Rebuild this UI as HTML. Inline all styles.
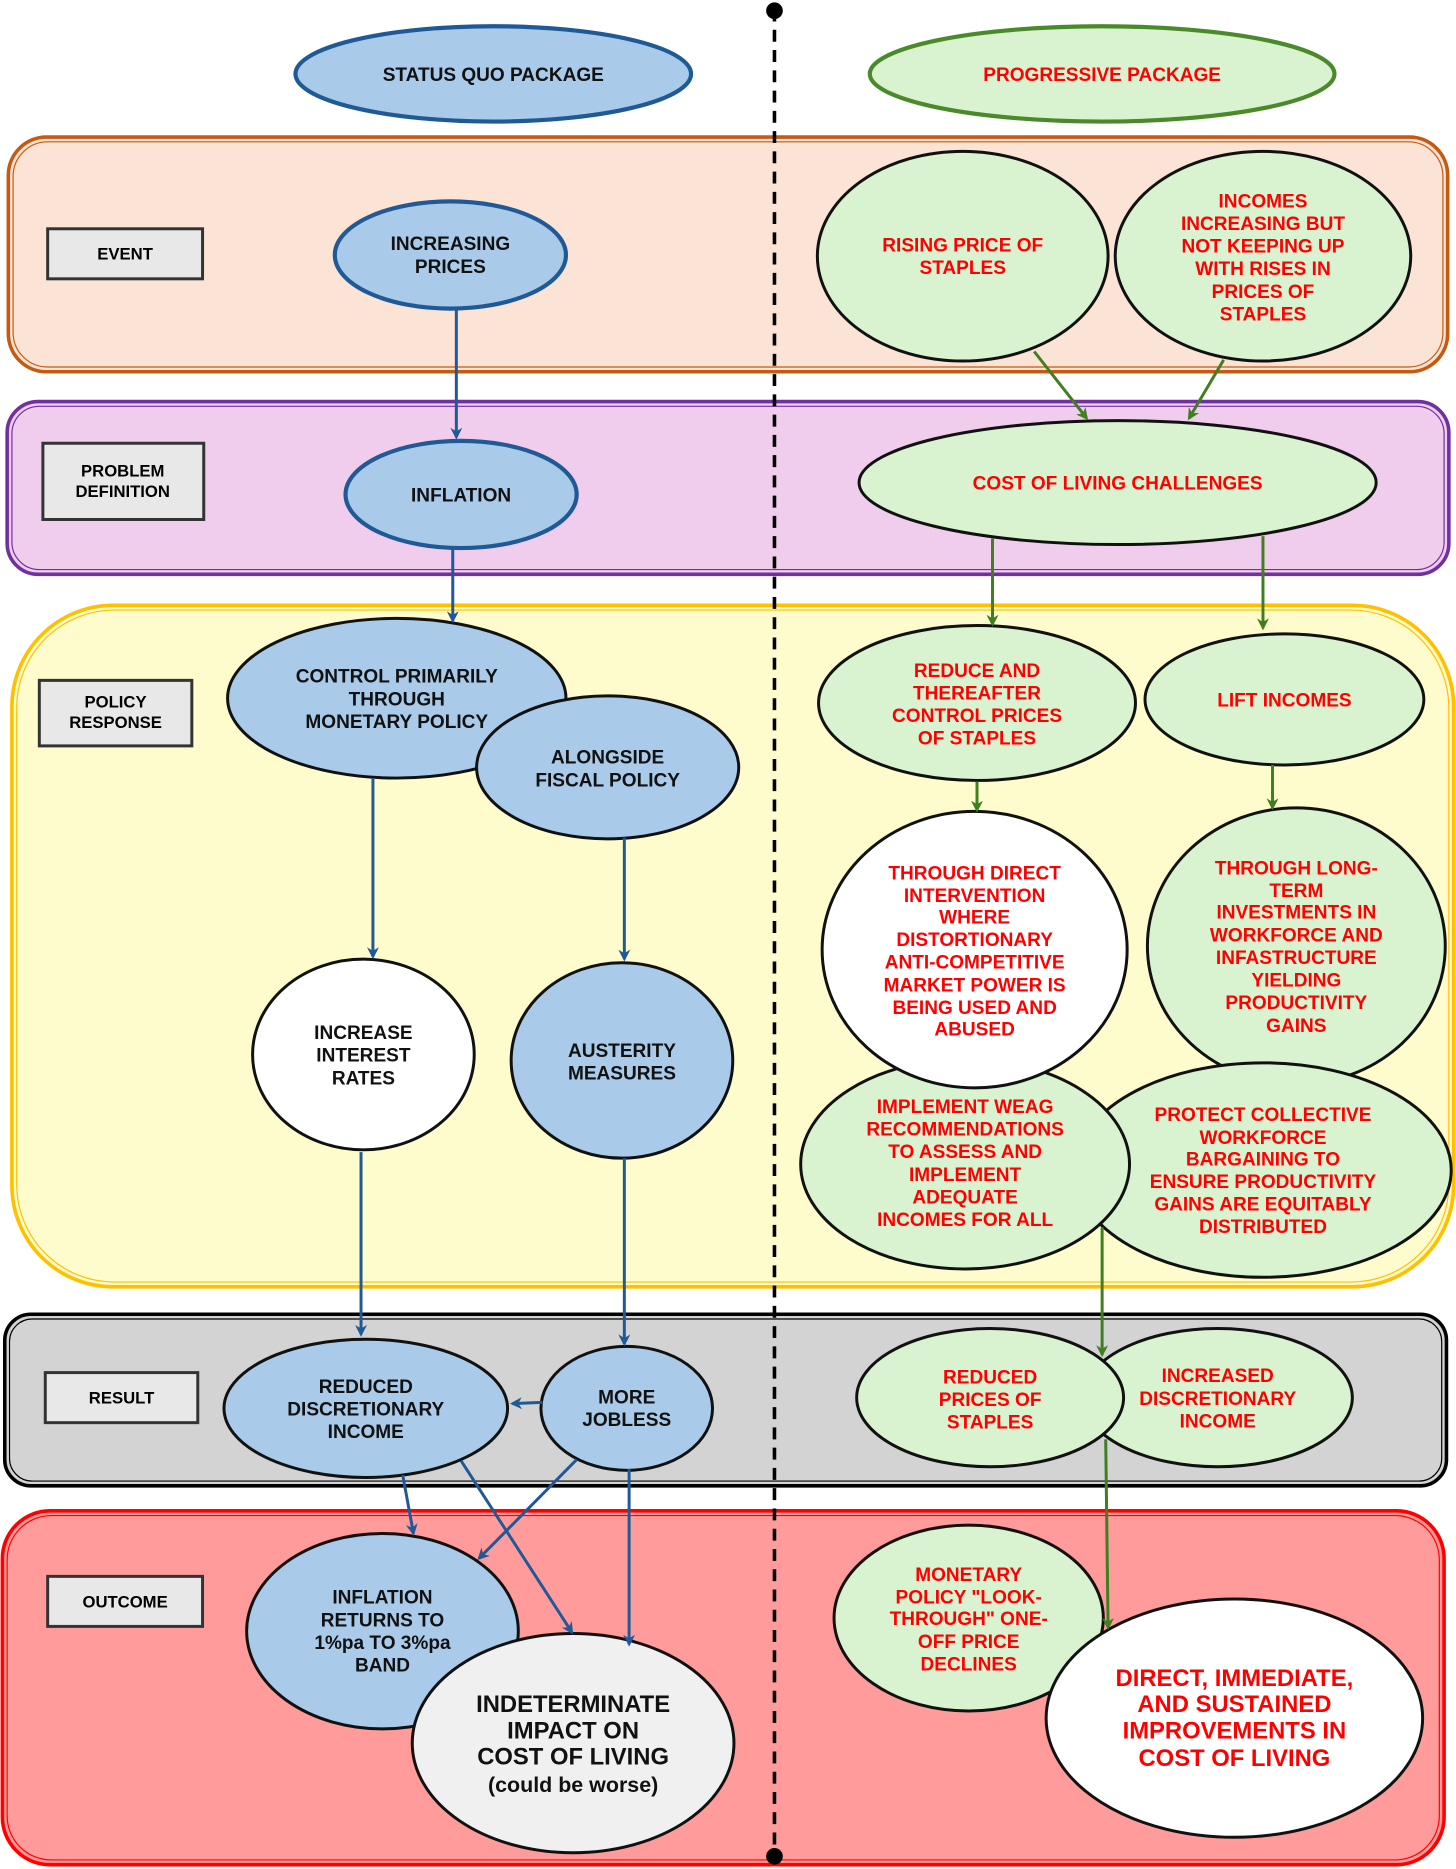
<!DOCTYPE html>
<html><head><meta charset="utf-8"><style>html,body{margin:0;padding:0;background:#fff}svg{display:block}</style></head>
<body>
<svg xmlns="http://www.w3.org/2000/svg" width="1456" height="1869" viewBox="0 0 1222 1568.6" font-family="Liberation Sans, sans-serif" font-weight="bold">
<defs>
<marker id="ab" markerWidth="10" markerHeight="10" refX="8" refY="5" orient="auto" markerUnits="userSpaceOnUse"><path d="M0,0 L10,5 L0,10 L3,5 z" fill="#1f5a96"/></marker>
<marker id="ag" markerWidth="10" markerHeight="10" refX="8" refY="5" orient="auto" markerUnits="userSpaceOnUse"><path d="M0,0 L10,5 L0,10 L3,5 z" fill="#3f7f1f"/></marker>
</defs>
<rect width="1222" height="1569" fill="#fff"/>
<!-- bands -->
<rect x="7" y="115" width="1208" height="197" rx="32" fill="#fbe3d6" stroke="#c55a11" stroke-width="3"/>
<rect x="11" y="119" width="1200" height="189" rx="29" fill="none" stroke="#c55a11" stroke-width="1"/>
<rect x="6" y="337" width="1210" height="145" rx="26" fill="#f0cdec" stroke="#7030a0" stroke-width="3"/>
<rect x="10" y="341" width="1202" height="137" rx="23" fill="none" stroke="#7030a0" stroke-width="1"/>
<rect x="10" y="508" width="1210" height="572" rx="85" fill="#fefbcc" stroke="#ffc000" stroke-width="3"/>
<rect x="14" y="512" width="1202" height="564" rx="82" fill="none" stroke="#ffc000" stroke-width="1"/>
<rect x="4" y="1103" width="1210" height="144" rx="22" fill="#d3d3d3" stroke="#000" stroke-width="3"/>
<rect x="8" y="1107" width="1202" height="136" rx="19" fill="none" stroke="#000" stroke-width="1"/>
<rect x="2" y="1268" width="1210" height="297" rx="40" fill="#ff9b9b" stroke="#ff0000" stroke-width="3"/>
<rect x="6" y="1272" width="1202" height="289" rx="37" fill="none" stroke="#ff0000" stroke-width="1"/>
<!-- dashed divider -->
<line x1="650" y1="8" x2="650" y2="1558" stroke="#000" stroke-width="3" stroke-dasharray="10,7"/>
<circle cx="650" cy="9" r="7" fill="#000"/><circle cx="650" cy="1558" r="7" fill="#000"/>
<!-- label boxes -->
<g fill="#e8e8e8" stroke="#333" stroke-width="2.5">
<rect x="40" y="192" width="130" height="42"/><rect x="36" y="372" width="135" height="64"/><rect x="33" y="571" width="128" height="55"/><rect x="38" y="1152" width="128" height="42"/><rect x="40" y="1323" width="130" height="42"/></g>
<g font-size="14" text-anchor="middle" fill="#000">
<text x="105" y="218">EVENT</text><text x="103" y="400">PROBLEM</text><text x="103" y="417">DEFINITION</text>
<text x="97" y="594">POLICY</text><text x="97" y="611">RESPONSE</text><text x="102" y="1178">RESULT</text><text x="105" y="1349">OUTCOME</text></g>
<!-- ellipses blue -->
<g fill="#a9cbe9" stroke="#1f5a96" stroke-width="3.5">
<ellipse cx="414" cy="62" rx="166" ry="40"/>
<ellipse cx="378" cy="214" rx="97" ry="45"/>
<ellipse cx="387" cy="415" rx="97" ry="45"/></g>
<g stroke="#111" stroke-width="2.5">
<ellipse cx="333" cy="586" rx="142" ry="67" fill="#a9cbe9"/>
<ellipse cx="510" cy="644" rx="110" ry="60" fill="#a9cbe9"/>
<ellipse cx="305" cy="885" rx="93" ry="80" fill="#fff"/>
<ellipse cx="522" cy="890" rx="93" ry="82" fill="#a9cbe9"/>
<ellipse cx="307" cy="1182" rx="119" ry="58" fill="#a9cbe9"/>
<ellipse cx="526" cy="1182" rx="72" ry="52" fill="#a9cbe9"/>
<ellipse cx="321" cy="1369" rx="114" ry="82" fill="#a9cbe9"/>
<ellipse cx="481" cy="1463" rx="135" ry="92" fill="#f0f0f0"/>
<!-- green -->
<ellipse cx="820" cy="590" rx="133" ry="65" fill="#d9f2d0"/>
<ellipse cx="1078" cy="587" rx="117" ry="55" fill="#d9f2d0"/>
<ellipse cx="1088" cy="794" rx="125" ry="116" fill="#d9f2d0"/>
<ellipse cx="1060" cy="982" rx="158" ry="90" fill="#d9f2d0"/>
<ellipse cx="810" cy="977" rx="138" ry="88" fill="#d9f2d0"/>
<ellipse cx="818" cy="797" rx="128" ry="116" fill="#fff"/>
<ellipse cx="1022" cy="1173" rx="113" ry="58" fill="#d9f2d0"/>
<ellipse cx="831" cy="1173" rx="112" ry="58" fill="#d9f2d0"/>
<ellipse cx="813" cy="1358" rx="113" ry="78" fill="#d9f2d0"/>
<ellipse cx="1036" cy="1442" rx="158" ry="100" fill="#fff"/></g>
<g fill="#d9f2d0" stroke="#4a8a2a" stroke-width="3.5">
<ellipse cx="925" cy="62" rx="195" ry="40"/></g>
<g fill="#d9f2d0" stroke="#111" stroke-width="2.5">
<ellipse cx="808" cy="215" rx="122" ry="88"/>
<ellipse cx="1060" cy="215" rx="124" ry="88"/>
<ellipse cx="938" cy="405" rx="217" ry="52"/></g>
<!-- arrows -->
<g stroke="#1f5a96" stroke-width="2.5" marker-end="url(#ab)" fill="none">
<line x1="383" y1="260" x2="383" y2="367"/><line x1="380" y1="461" x2="380" y2="521"/>
<line x1="313" y1="653" x2="313" y2="803"/><line x1="524" y1="703" x2="524" y2="805"/>
<line x1="303" y1="967" x2="303" y2="1120"/><line x1="524" y1="972" x2="524" y2="1128"/>
<line x1="455" y1="1177" x2="430" y2="1178"/><line x1="338" y1="1238" x2="347" y2="1287"/>
<line x1="387" y1="1226" x2="480" y2="1370"/><line x1="484" y1="1225" x2="402" y2="1308"/>
<line x1="528" y1="1233" x2="528" y2="1380"/></g>
<g stroke="#3f7f1f" stroke-width="2.5" marker-end="url(#ag)" fill="none">
<line x1="868" y1="295" x2="912" y2="351"/><line x1="1027" y1="302" x2="998" y2="351"/>
<line x1="833" y1="452" x2="833" y2="524"/><line x1="1060" y1="450" x2="1060" y2="527"/>
<line x1="820" y1="656" x2="820" y2="680"/><line x1="1068" y1="642" x2="1068" y2="678"/>
<line x1="925" y1="1030" x2="925" y2="1137"/><line x1="928" y1="1208" x2="930" y2="1366"/></g>
<!-- texts -->
<g font-size="16" text-anchor="middle" fill="#111">
<text x="414" y="68">STATUS QUO PACKAGE</text>
<text x="378" y="210">INCREASING</text><text x="378" y="229">PRICES</text>
<text x="387" y="421">INFLATION</text>
<text x="333" y="573">CONTROL PRIMARILY</text><text x="333" y="592">THROUGH</text><text x="333" y="611">MONETARY POLICY</text>
<text x="510" y="641">ALONGSIDE</text><text x="510" y="660">FISCAL POLICY</text>
<text x="305" y="872">INCREASE</text><text x="305" y="891">INTEREST</text><text x="305" y="910">RATES</text>
<text x="522" y="887">AUSTERITY</text><text x="522" y="906">MEASURES</text>
<text x="307" y="1169">REDUCED</text><text x="307" y="1188">DISCRETIONARY</text><text x="307" y="1207">INCOME</text>
<text x="526" y="1178">MORE</text><text x="526" y="1197">JOBLESS</text>
<text x="321" y="1346">INFLATION</text><text x="321" y="1365">RETURNS TO</text><text x="321" y="1384">1%pa TO 3%pa</text><text x="321" y="1403">BAND</text>
<g font-size="20"><text x="481" y="1437">INDETERMINATE</text><text x="481" y="1459">IMPACT ON</text><text x="481" y="1481">COST OF LIVING</text><text x="481" y="1504" font-size="18">(could be worse)</text></g>
</g>
<g font-size="16" text-anchor="middle" fill="#ff0000">
<text x="925" y="68">PROGRESSIVE PACKAGE</text>
<text x="808" y="211">RISING PRICE OF</text><text x="808" y="230">STAPLES</text>
<text x="1060" y="174">INCOMES</text><text x="1060" y="193">INCREASING BUT</text><text x="1060" y="212">NOT KEEPING UP</text><text x="1060" y="231">WITH RISES IN</text><text x="1060" y="250">PRICES OF</text><text x="1060" y="269">STAPLES</text>
<text x="938" y="411">COST OF LIVING CHALLENGES</text>
<text x="820" y="568">REDUCE AND</text><text x="820" y="587">THEREAFTER</text><text x="820" y="606">CONTROL PRICES</text><text x="820" y="625">OF STAPLES</text>
<text x="1078" y="593">LIFT INCOMES</text>
<text x="818" y="738">THROUGH DIRECT</text><text x="818" y="757">INTERVENTION</text><text x="818" y="775">WHERE</text><text x="818" y="794">DISTORTIONARY</text><text x="818" y="813">ANTI-COMPETITIVE</text><text x="818" y="832">MARKET POWER IS</text><text x="818" y="851">BEING USED AND</text><text x="818" y="869">ABUSED</text>
<text x="1088" y="734">THROUGH LONG-</text><text x="1088" y="753">TERM</text><text x="1088" y="771">INVESTMENTS IN</text><text x="1088" y="790">WORKFORCE AND</text><text x="1088" y="809">INFASTRUCTURE</text><text x="1088" y="828">YIELDING</text><text x="1088" y="847">PRODUCTIVITY</text><text x="1088" y="866">GAINS</text>
<text x="810" y="934">IMPLEMENT WEAG</text><text x="810" y="953">RECOMMENDATIONS</text><text x="810" y="972">TO ASSESS AND</text><text x="810" y="991">IMPLEMENT</text><text x="810" y="1010">ADEQUATE</text><text x="810" y="1029">INCOMES FOR ALL</text>
<text x="1060" y="941">PROTECT COLLECTIVE</text><text x="1060" y="960">WORKFORCE</text><text x="1060" y="978">BARGAINING TO</text><text x="1060" y="997">ENSURE PRODUCTIVITY</text><text x="1060" y="1016">GAINS ARE EQUITABLY</text><text x="1060" y="1035">DISTRIBUTED</text>
<text x="831" y="1161">REDUCED</text><text x="831" y="1180">PRICES OF</text><text x="831" y="1199">STAPLES</text>
<text x="1022" y="1160">INCREASED</text><text x="1022" y="1179">DISCRETIONARY</text><text x="1022" y="1198">INCOME</text>
<text x="813" y="1327">MONETARY</text><text x="813" y="1346">POLICY "LOOK-</text><text x="813" y="1364">THROUGH" ONE-</text><text x="813" y="1383">OFF PRICE</text><text x="813" y="1402">DECLINES</text>
<g font-size="20"><text x="1036" y="1415">DIRECT, IMMEDIATE,</text><text x="1036" y="1437">AND SUSTAINED</text><text x="1036" y="1459">IMPROVEMENTS IN</text><text x="1036" y="1482">COST OF LIVING</text></g>
</g>
</svg>
</body></html>
